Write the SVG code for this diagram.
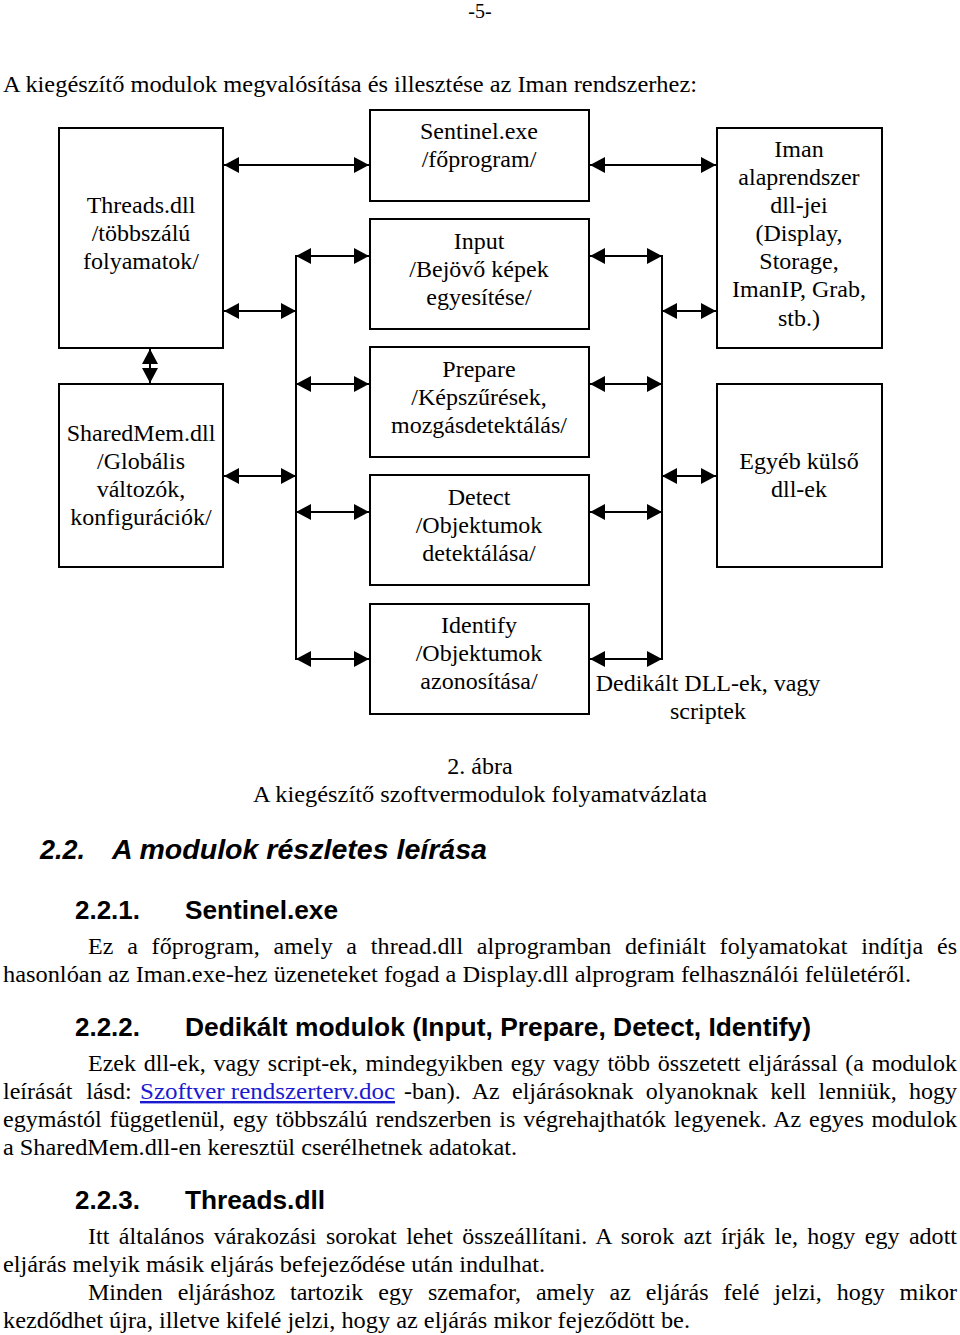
<svg xmlns="http://www.w3.org/2000/svg" width="960" height="1335" viewBox="0 0 960 1335">
<style>
.bg{fill:#fff}
.box{fill:#fff;stroke:#000;stroke-width:2}
.t{font-family:"Liberation Serif","Times New Roman",serif;font-size:24px;fill:#000}
.c{text-anchor:middle}
.h{font-family:"Liberation Sans",Arial,sans-serif;font-weight:bold;font-size:26px;fill:#000}
.hi{font-family:"Liberation Sans",Arial,sans-serif;font-weight:bold;font-style:italic;font-size:28px;fill:#000}
.ln{stroke:#000;stroke-width:2;fill:none}
.ar{stroke:#000;stroke-width:2;fill:none;marker-start:url(#ah);marker-end:url(#ah)}
.link{fill:#1a1ad0;text-decoration:underline}
</style>
<defs>
<marker id="ah" viewBox="0 0 15 16" refX="15" refY="8" markerWidth="15" markerHeight="16" markerUnits="userSpaceOnUse" orient="auto-start-reverse">
<path d="M0,0 L15,8 L0,16 z" fill="#000"/>
</marker>
</defs>
<rect class="bg" x="0" y="0" width="960" height="1335"/>

<text class="t c" x="480" y="18" style="font-size:20px">-5-</text>
<text class="t" x="3" y="92" textLength="694" lengthAdjust="spacingAndGlyphs">A kiegészítő modulok megvalósítása és illesztése az Iman rendszerhez:</text>

<g id="connectors">
<line class="ar" x1="224" y1="165" x2="369" y2="165"/>
<line class="ar" x1="590" y1="165" x2="716" y2="165"/>
<line class="ar" x1="224" y1="311" x2="296" y2="311"/>
<line class="ar" x1="296" y1="256" x2="369" y2="256"/>
<line class="ar" x1="296" y1="384" x2="369" y2="384"/>
<line class="ar" x1="224" y1="476" x2="296" y2="476"/>
<line class="ar" x1="296" y1="512" x2="369" y2="512"/>
<line class="ar" x1="296" y1="659" x2="369" y2="659"/>
<line class="ln" x1="296" y1="255" x2="296" y2="660"/>
<line class="ar" x1="590" y1="256" x2="662" y2="256"/>
<line class="ar" x1="590" y1="384" x2="662" y2="384"/>
<line class="ar" x1="590" y1="512" x2="662" y2="512"/>
<line class="ar" x1="590" y1="659" x2="662" y2="659"/>
<line class="ln" x1="662" y1="255" x2="662" y2="660"/>
<line class="ar" x1="662" y1="311" x2="716" y2="311"/>
<line class="ar" x1="662" y1="476" x2="716" y2="476"/>
<line class="ar" x1="150" y1="349" x2="150" y2="383"/>
</g>

<g id="threads">
<rect class="box" x="59" y="128" width="164" height="220"/>
<text class="t c" x="141" y="213">Threads.dll</text>
<text class="t c" x="141" y="241">/többszálú</text>
<text class="t c" x="141" y="269">folyamatok/</text>
</g>
<g id="sharedmem">
<rect class="box" x="59" y="384" width="164" height="183"/>
<text class="t c" x="141" y="441">SharedMem.dll</text>
<text class="t c" x="141" y="469">/Globális</text>
<text class="t c" x="141" y="497">változók,</text>
<text class="t c" x="141" y="525">konfigurációk/</text>
</g>
<g id="sentinel">
<rect class="box" x="370" y="110" width="219" height="91"/>
<text class="t c" x="479" y="139">Sentinel.exe</text>
<text class="t c" x="479" y="167">/főprogram/</text>
</g>
<g id="input">
<rect class="box" x="370" y="219" width="219" height="110"/>
<text class="t c" x="479" y="249">Input</text>
<text class="t c" x="479" y="277">/Bejövő képek</text>
<text class="t c" x="479" y="305">egyesítése/</text>
</g>
<g id="prepare">
<rect class="box" x="370" y="347" width="219" height="110"/>
<text class="t c" x="479" y="377">Prepare</text>
<text class="t c" x="479" y="405">/Képszűrések,</text>
<text class="t c" x="479" y="433">mozgásdetektálás/</text>
</g>
<g id="detect">
<rect class="box" x="370" y="475" width="219" height="110"/>
<text class="t c" x="479" y="505">Detect</text>
<text class="t c" x="479" y="533">/Objektumok</text>
<text class="t c" x="479" y="561">detektálása/</text>
</g>
<g id="identify">
<rect class="box" x="370" y="604" width="219" height="110"/>
<text class="t c" x="479" y="633">Identify</text>
<text class="t c" x="479" y="661">/Objektumok</text>
<text class="t c" x="479" y="689">azonosítása/</text>
</g>
<g id="iman">
<rect class="box" x="717" y="128" width="165" height="220"/>
<text class="t c" x="799" y="157">Iman</text>
<text class="t c" x="799" y="185">alaprendszer</text>
<text class="t c" x="799" y="213">dll-jei</text>
<text class="t c" x="799" y="241">(Display,</text>
<text class="t c" x="799" y="269">Storage,</text>
<text class="t c" x="799" y="297">ImanIP, Grab,</text>
<text class="t c" x="799" y="326">stb.)</text>
</g>
<g id="egyeb">
<rect class="box" x="717" y="384" width="165" height="183"/>
<text class="t c" x="799" y="469">Egyéb külső</text>
<text class="t c" x="799" y="497">dll-ek</text>
</g>
<g id="dedikalt-label">
<text class="t c" x="708" y="691">Dedikált DLL-ek, vagy</text>
<text class="t c" x="708" y="719">scriptek</text>
</g>

<text class="t c" x="480" y="774">2. ábra</text>
<text class="t c" x="480" y="802" textLength="454" lengthAdjust="spacingAndGlyphs">A kiegészítő szoftvermodulok folyamatvázlata</text>

<text class="hi" x="40" y="859" textLength="45" lengthAdjust="spacingAndGlyphs">2.2.</text>
<text class="hi" x="112" y="859" textLength="375" lengthAdjust="spacingAndGlyphs">A modulok részletes leírása</text>

<text class="h" x="75" y="919" textLength="65" lengthAdjust="spacingAndGlyphs">2.2.1.</text>
<text class="h" x="185" y="919" textLength="153" lengthAdjust="spacingAndGlyphs">Sentinel.exe</text>
<text class="t" x="88" y="954" word-spacing="7.5" textLength="869" lengthAdjust="spacing">Ez a főprogram, amely a thread.dll alprogramban definiált folyamatokat indítja és</text>
<text class="t" x="3" y="982" textLength="908" lengthAdjust="spacingAndGlyphs">hasonlóan az Iman.exe-hez üzeneteket fogad a Display.dll alprogram felhasználói felületéről.</text>

<text class="h" x="75" y="1036" textLength="65" lengthAdjust="spacingAndGlyphs">2.2.2.</text>
<text class="h" x="185" y="1036" textLength="626" lengthAdjust="spacingAndGlyphs">Dedikált modulok (Input, Prepare, Detect, Identify)</text>
<text class="t" x="88" y="1071" word-spacing="1.7" textLength="869" lengthAdjust="spacing">Ezek dll-ek, vagy script-ek, mindegyikben egy vagy több összetett eljárással (a modulok</text>
<text class="t" x="3" y="1099" word-spacing="8">leírását lásd:</text>
<text class="t link" x="140" y="1099" textLength="255" lengthAdjust="spacingAndGlyphs">Szoftver rendszerterv.doc</text>
<text class="t" x="404" y="1099" word-spacing="6.2" textLength="553" lengthAdjust="spacing">-ban). Az eljárásoknak olyanoknak kell lenniük, hogy</text>
<text class="t" x="3" y="1127" word-spacing="1.8" textLength="954" lengthAdjust="spacing">egymástól függetlenül, egy többszálú rendszerben is végrehajthatók legyenek. Az egyes modulok</text>
<text class="t" x="3" y="1155" textLength="514" lengthAdjust="spacingAndGlyphs">a SharedMem.dll-en keresztül cserélhetnek adatokat.</text>

<text class="h" x="75" y="1209" textLength="65" lengthAdjust="spacingAndGlyphs">2.2.3.</text>
<text class="h" x="185" y="1209" textLength="140" lengthAdjust="spacingAndGlyphs">Threads.dll</text>
<text class="t" x="88" y="1244" word-spacing="3.4" textLength="869" lengthAdjust="spacing">Itt általános várakozási sorokat lehet összeállítani. A sorok azt írják le, hogy egy adott</text>
<text class="t" x="3" y="1272" textLength="542" lengthAdjust="spacingAndGlyphs">eljárás melyik másik eljárás befejeződése után indulhat.</text>
<text class="t" x="88" y="1300" word-spacing="8.9" textLength="869" lengthAdjust="spacing">Minden eljáráshoz tartozik egy szemafor, amely az eljárás felé jelzi, hogy mikor</text>
<text class="t" x="3" y="1328" textLength="687" lengthAdjust="spacingAndGlyphs">kezdődhet újra, illetve kifelé jelzi, hogy az eljárás mikor fejeződött be.</text>
</svg>
